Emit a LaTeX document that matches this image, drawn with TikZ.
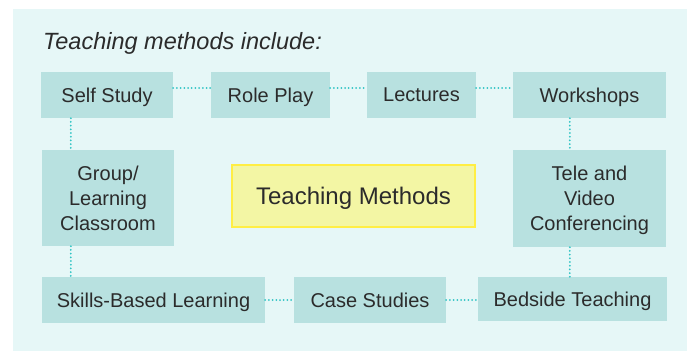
\documentclass[tikz,border=0pt]{standalone}
\usepackage{fontspec}
\setmainfont{Liberation Sans}
\definecolor{panel}{HTML}{E6F7F7}
\definecolor{boxfill}{HTML}{B8E1E0}
\definecolor{dots}{HTML}{30C4C4}
\definecolor{ink}{HTML}{2B2B2B}
\definecolor{hubfill}{HTML}{F3F6A4}
\definecolor{hubline}{HTML}{FFEE44}
\tikzset{mb/.style = {rectangle, fill=boxfill, text=ink, inner sep=0pt, align=center, text depth=0pt,
                      font=\fontsize{20}{25}\selectfont},
           hb/.style = {rectangle, fill=hubfill, draw=hubline, line width=2.5pt, text=ink, text depth=0pt,
                      inner sep=0pt, font=\fontsize{24}{28}\selectfont},
           dl/.style = {draw=dots, line width=2pt, line cap=round, dash pattern=on 0pt off 3.7pt}}
\begin{document}
\begin{tikzpicture}[x=1pt, y=-1pt]
    \useasboundingbox (0,0) rectangle (687,351);
    \fill[panel] (13,9) rectangle (687,351);
    \node[text=ink, inner sep=0pt, anchor=base west, font=\fontsize{23.5}{28}\selectfont\itshape] (ttl) at (43,49) {Teaching methods include:};
    \node[mb, minimum width=132pt, minimum height=46pt] (ss) at (107,95) {Self Study};
    \node[mb, minimum width=119pt, minimum height=46pt] (rp) at (270.5,95) {Role Play};
    \node[mb, minimum width=109pt, minimum height=46pt] (lc) at (421.5,95) {Lectures};
    \node[mb, minimum width=153pt, minimum height=46pt] (ws) at (589.5,95) {Workshops};
    \node[mb, minimum width=132pt, minimum height=96pt] (gl) at (108,198) {Group/\\Learning\\Classroom};
    \node[hb, minimum width=243pt, minimum height=62pt] (tm) at (353.5,196) {Teaching Methods};
    \node[mb, minimum width=153pt, minimum height=97pt] (tv) at (589.5,198.5) {Tele and\\Video\\Conferencing};
    \node[mb, minimum width=223pt, minimum height=46pt] (sb) at (153.5,300) {Skills-Based Learning};
    \node[mb, minimum width=152pt, minimum height=46pt] (cs) at (370,300) {Case Studies};
    \node[mb, minimum width=189pt, minimum height=44pt] (bt) at (572.5,299) {Bedside Teaching};
    \draw[dl] ([yshift=7pt]ss.east) -- ([yshift=7pt]rp.west);
    \draw[dl] ([yshift=7pt]rp.east) -- ([yshift=7pt]lc.west);
    \draw[dl] ([yshift=7pt]lc.east) -- ([yshift=7pt]ws.west);
    \draw[dl] ([xshift=30pt]ss.south west) -- ([xshift=30pt]ss.south west |- gl.north);
    \draw[dl] ([xshift=29pt]gl.south west) -- ([xshift=29pt]gl.south west |- sb.north);
    \draw[dl] ([xshift=57pt]ws.south west) -- ([xshift=57pt]ws.south west |- tv.north);
    \draw[dl] ([xshift=57pt]tv.south west) -- ([xshift=57pt]tv.south west |- bt.north);
    \draw[dl] (sb.east) -- (cs.west);
    \draw[dl] (cs.east) -- (bt.west |- cs.east);
\end{tikzpicture}
\end{document}
